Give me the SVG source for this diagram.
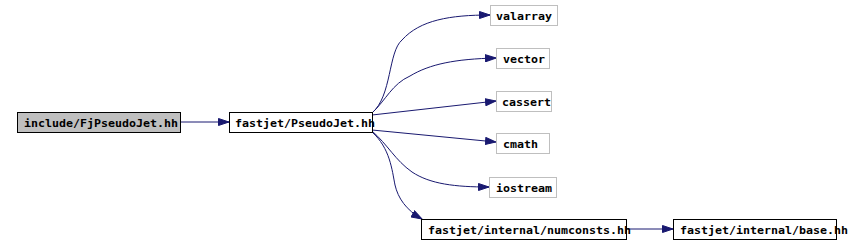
<svg xmlns="http://www.w3.org/2000/svg" width="852" height="244" viewBox="0 0 852 244">
<style>
.n rect{fill:#fff;stroke:#000;stroke-width:1}
.n.g rect{stroke:#bfbfbf}
.n.root rect{fill:#bfbfbf}
.n text{font-family:"DejaVu Sans Mono","Liberation Mono",monospace;font-size:11px;font-weight:bold;fill:#000}
.e path{fill:none;stroke:#191970;stroke-width:1;marker-end:url(#ah)}
</style>
<defs>
<marker id="ah" markerUnits="userSpaceOnUse" markerWidth="12" markerHeight="8" refX="11" refY="4" orient="auto">
<polygon points="0.5,0.5 11,4 0.5,7.5" fill="#191970" stroke="#191970"/>
</marker>
</defs>
<rect width="852" height="244" fill="#fff"/>
<g class="e">
<path d="M180.5,122 L229,122"/>
<path d="M372,113 C392,96 388,52 402,40 C420,20 450,15 490,15"/>
<path d="M372,113 C386,100 392,84 410,76 C430,64 455,59 496,58"/>
<path d="M372,115 L496,101"/>
<path d="M372,130 L496,142"/>
<path d="M372,131 C388,145 395,160 412,172 C430,184 455,187 489,187"/>
<path d="M372,132 C390,148 392,170 395,185 C398,198 406,210 422,219"/>
<path d="M626,229 L673,229"/>
</g>
<g id="n_include" class="n root"><rect x="17.5" y="112.5" width="163" height="20"/><text x="24" y="126.5" textLength="154" lengthAdjust="spacingAndGlyphs">include/FjPseudoJet.hh</text></g>
<g id="n_pseudojet" class="n"><rect x="229.5" y="112.5" width="143" height="20"/><text x="235" y="126.5" textLength="140" lengthAdjust="spacingAndGlyphs">fastjet/PseudoJet.hh</text></g>
<g id="n_valarray" class="n g"><rect x="490.5" y="5.5" width="67" height="20"/><text x="496" y="19.5" textLength="56" lengthAdjust="spacingAndGlyphs">valarray</text></g>
<g id="n_vector" class="n g"><rect x="496.5" y="48.5" width="53" height="20"/><text x="503" y="62.5" textLength="42" lengthAdjust="spacingAndGlyphs">vector</text></g>
<g id="n_cassert" class="n g"><rect x="496.5" y="91.5" width="55" height="20"/><text x="502" y="105.5" textLength="49" lengthAdjust="spacingAndGlyphs">cassert</text></g>
<g id="n_cmath" class="n g"><rect x="496.5" y="133.5" width="53" height="20"/><text x="503" y="147.5" textLength="35" lengthAdjust="spacingAndGlyphs">cmath</text></g>
<g id="n_iostream" class="n g"><rect x="489.5" y="177.5" width="67" height="20"/><text x="496" y="191.5" textLength="56" lengthAdjust="spacingAndGlyphs">iostream</text></g>
<g id="n_numconsts" class="n"><rect x="421.5" y="219.5" width="205" height="20"/><text x="428" y="233.5" textLength="203" lengthAdjust="spacingAndGlyphs">fastjet/internal/numconsts.hh</text></g>
<g id="n_base" class="n"><rect x="673.5" y="219.5" width="163" height="20"/><text x="680" y="233.5" textLength="168" lengthAdjust="spacingAndGlyphs">fastjet/internal/base.hh</text></g>
</svg>
